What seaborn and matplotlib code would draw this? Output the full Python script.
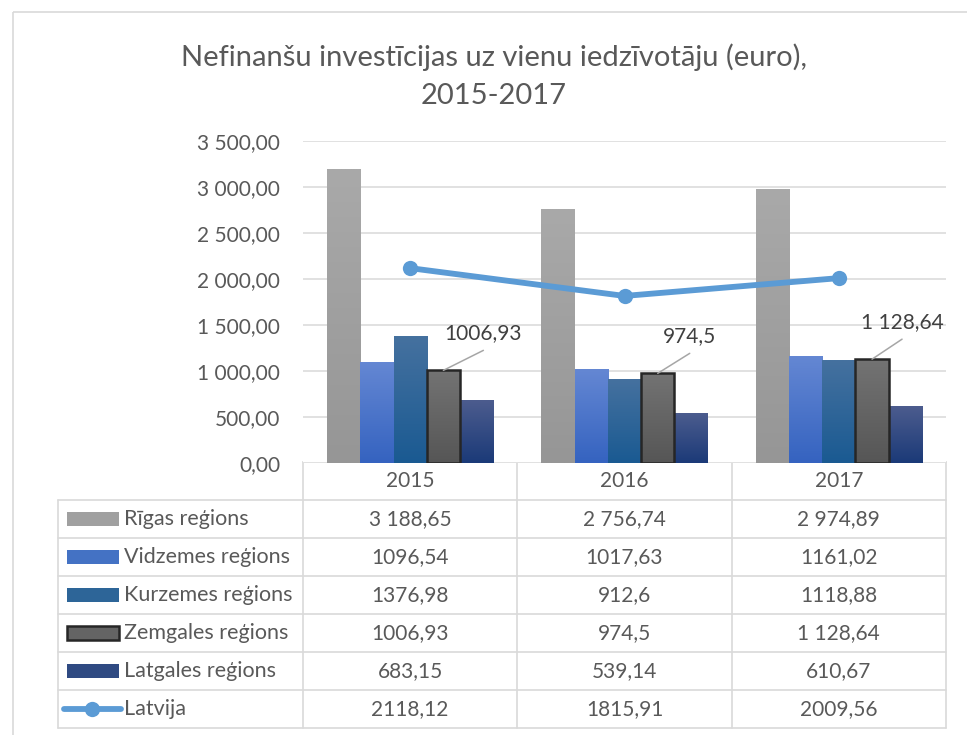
import numpy as np
import pandas as pd
import matplotlib
matplotlib.use("Agg")
import matplotlib.pyplot as plt
import seaborn as sns
from matplotlib.colors import LinearSegmentedColormap
from matplotlib.patches import Rectangle
from matplotlib.lines import Line2D
from matplotlib.ticker import FuncFormatter

years = ["2015", "2016", "2017"]
regions = ["Rīgas reģions", "Vidzemes reģions", "Kurzemes reģions",
           "Zemgales reģions", "Latgales reģions"]
rigas = [3188.65, 2756.74, 2974.89]
vidzeme = [1096.54, 1017.63, 1161.02]
kurzeme = [1376.98, 912.6, 1118.88]
zemgale = [1006.93, 974.5, 1128.64]
latgale = [683.15, 539.14, 610.67]
latvija = [2118.12, 1815.91, 2009.56]

# text as it appears in the data table
rigas_txt = ["3 188,65", "2 756,74", "2 974,89"]
vidzeme_txt = ["1096,54", "1017,63", "1161,02"]
kurzeme_txt = ["1376,98", "912,6", "1118,88"]
zemgale_txt = ["1006,93", "974,5", "1 128,64"]
latgale_txt = ["683,15", "539,14", "610,67"]
latvija_txt = ["2118,12", "1815,91", "2009,56"]

# gradient colours (top, bottom)
grads = [("#A9A9A9", "#969696"), ("#6487D3", "#3563C0"), ("#45719F", "#1A5A92"),
         ("#737373", "#565656"), ("#4C5C8E", "#1B3A78")]
mids = ["#A0A0A0", "#4472C4", "#2D6598", "#646464", "#2F4A82"]
line_col = "#5B9BD5"
txt_col = "#595959"
grid_col = "#D9D9D9"
fs = 15

sns.set_style("white")
plt.rcParams['font.family'] = ['Lato', 'DejaVu Sans']

W, H = 967, 735
fig = plt.figure(figsize=(W / 100, H / 100), dpi=100)
ax = fig.add_axes([303 / W, 1 - 463 / H, (946 - 303) / W, (463 - 141) / H])

df = pd.DataFrame({
    "year": years * 5,
    "region": np.repeat(regions, 3),
    "value": rigas + vidzeme + kurzeme + zemgale + latgale,
})
sns.barplot(data=df, x="year", y="value", hue="region", hue_order=regions,
            palette=mids, width=0.775, saturation=1, legend=False, ax=ax, zorder=2)

# vertical gradient on every bar
g = np.linspace(0, 1, 100).reshape(-1, 1)
for i, cont in enumerate(ax.containers):
    cm = LinearSegmentedColormap.from_list("g%d" % i, [grads[i][1], grads[i][0]])
    for p in cont:
        x0, w, h = p.get_x(), p.get_width(), p.get_height()
        ax.imshow(g, extent=(x0, x0 + w, 0, h), origin="lower", cmap=cm,
                  aspect="auto", zorder=2, interpolation="bilinear")
        p.set_facecolor("none")
        p.set_zorder(3)
        if i == 3:
            p.set_edgecolor("#262626")
            p.set_linewidth(1.8)
        else:
            p.set_linewidth(0)

sns.pointplot(x=years, y=latvija, color=line_col, markers="o", ax=ax,
              linewidth=4.2, markersize=11, markeredgewidth=0, zorder=5)

ax.set_xlim(-0.5, 2.5)
ax.set_ylim(0, 3500)
ax.set_yticks(np.arange(0, 3501, 500))
ax.yaxis.set_major_formatter(FuncFormatter(
    lambda v, p: f"{v:,.2f}".replace(",", " ").replace(".", ",")))
ax.yaxis.grid(True, color=grid_col, lw=1.1)
ax.set_axisbelow(True)
ax.tick_params(axis="y", length=0, pad=16.5, labelsize=fs, labelcolor=txt_col)
ax.tick_params(axis="x", length=0, labelbottom=False)
ax.set_xlabel("")
ax.set_ylabel("")
sns.despine(ax=ax, left=True, bottom=True)

# data labels on Zemgales bars
dx_px = [40, 32, 30]
for p, lab, dx in zip(ax.containers[3], zemgale_txt, dx_px):
    cx = p.get_x() + p.get_width() / 2
    ax.annotate("", xy=(cx, p.get_height()), xytext=(dx * 0.72, 20 * 0.72),
                textcoords="offset points",
                arrowprops=dict(arrowstyle="-", color="#A6A6A6", lw=1.1, shrinkA=0, shrinkB=0))
    ax.annotate(lab, xy=(cx, p.get_height()), xytext=(dx * 0.72, 37 * 0.72),
                textcoords="offset points", ha="center", va="center",
                fontsize=fs, color="#404040", zorder=6)

# overlay in pixel coordinates for title, border and data table
ov = fig.add_axes([0, 0, 1, 1], zorder=-1)
ov.set_xlim(0, W)
ov.set_ylim(H, 0)
ov.axis("off")
ov.add_patch(Rectangle((13, 12), 1200, 1200, fill=False, ec=grid_col, lw=1.2))
ov.text(494, 76, "Nefinanšu investīcijas uz vienu iedzīvotāju (euro),\n2015-2017",
        ha="center", va="center", fontsize=21, color=txt_col, linespacing=1.55)

cols = [ax.transData.transform((c, 0))[0] for c in [-0.5, 0.5, 1.5, 2.5]]
top, hdr, rh = 462, 500, 38
nrows = 6
bottom = hdr + rh * nrows
lk = dict(color=grid_col, lw=1.2)
ov.plot([cols[0], cols[-1]], [top, top], **lk)
for r in range(nrows + 1):
    ov.plot([58, cols[-1]], [hdr + r * rh, hdr + r * rh], **lk)
ov.plot([58, 58], [hdr, bottom], **lk)
for c in cols:
    ov.plot([c, c], [top, bottom], **lk)

for j, y in enumerate(years):
    ov.text((cols[j] + cols[j + 1]) / 2, (top + hdr) / 2, y, ha="center", va="center",
            fontsize=fs, color=txt_col)

names = regions + ["Latvija"]
texts = [rigas_txt, vidzeme_txt, kurzeme_txt, zemgale_txt, latgale_txt, latvija_txt]
for r, (nm, vals) in enumerate(zip(names, texts)):
    cy = hdr + r * rh + rh / 2
    if r < 5:
        ov.add_patch(Rectangle((67, cy - 7), 52, 14, fc=mids[r],
                               ec="#262626" if r == 3 else "none", lw=1.8 if r == 3 else 0))
    else:
        ov.add_line(Line2D([64, 121], [cy, cy], color=line_col, lw=4.2,
                           solid_capstyle="round"))
        ov.plot([92], [cy], "o", color=line_col, ms=11, mew=0)
    ov.text(124, cy, nm, ha="left", va="center", fontsize=fs + 0.5, color=txt_col)
    for j, v in enumerate(vals):
        ov.text((cols[j] + cols[j + 1]) / 2, cy, v, ha="center", va="center",
                fontsize=fs, color=txt_col)

fig.savefig("out.png", dpi=100)
